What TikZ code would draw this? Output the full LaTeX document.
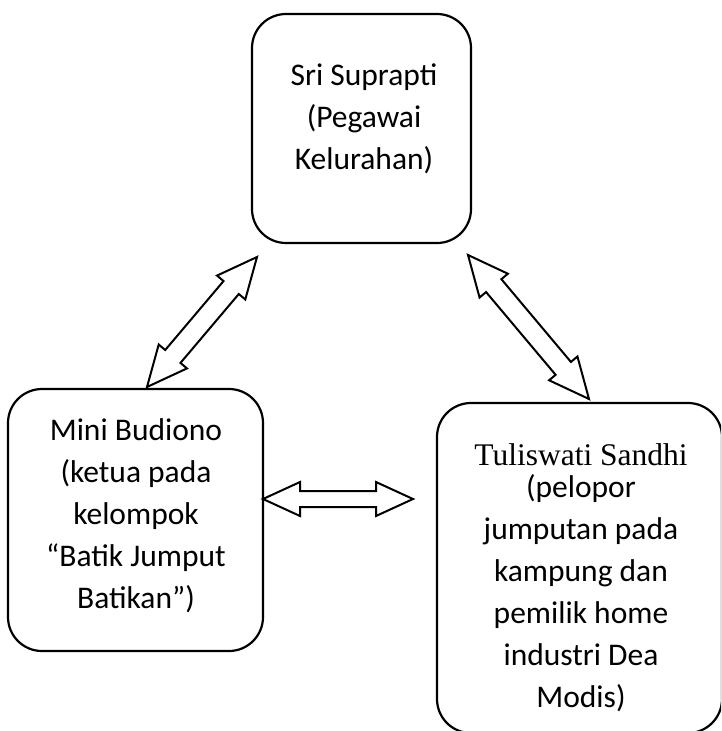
\documentclass[tikz,border=0pt]{standalone}
\usepackage{fontspec}
\setmainfont{Carlito}
\newfontfamily\timesfont{Liberation Serif}
\usetikzlibrary{calc}
\tikzset{
  box/.style={draw=black, line width=2.2pt, rounded corners=34pt, inner sep=0pt, outer sep=0pt, fill=white},
  txt/.style={align=center, inner sep=0pt, font=\fontsize{31.5pt}{42pt}\selectfont},
  arr/.style={draw=black, fill=white, line width=2pt, line join=miter, miter limit=10},
}
\newcommand\dblarrow[5]{%
  \draw[arr] (#1) -- ($(#1)!#3!(#2)!#4!90:(#2)$) -- ($(#1)!#3!(#2)!#5!90:(#2)$)
    -- ($(#2)!#3!(#1)!#5!-90:(#1)$) -- ($(#2)!#3!(#1)!#4!-90:(#1)$) -- (#2)
    -- ($(#2)!#3!(#1)!#4!90:(#1)$) -- ($(#2)!#3!(#1)!#5!90:(#1)$)
    -- ($(#1)!#3!(#2)!#5!-90:(#2)$) -- ($(#1)!#3!(#2)!#4!-90:(#2)$) -- cycle;}
\begin{document}
\begin{tikzpicture}[x=1pt, y=-1pt]
\useasboundingbox (0,0) rectangle (721,731);
\fill[white] (0,0) rectangle (721,731);
% boxes
\node[box, minimum width=219pt, minimum height=229pt] (sri) at (361.5,128.5) {};
\node[box, minimum width=255pt, minimum height=262pt] (mini) at (135.5,520) {};
\begin{scope}
  \clip (0,0) rectangle (721,731);
  \node[box, minimum width=285pt, minimum height=330pt] (tuli) at (579.5,568) {};
\end{scope}
% texts (base anchor = baseline of the last line)
\node[txt, anchor=base] (sritxt) at (364,169) {Sri Suprapti\\(Pegawai\\Kelurahan)};
\node[txt, anchor=base] (minitxt) at (136,608) {Mini Budiono\\(ketua pada\\kelompok\\“Batik Jumput\\Batikan”)};
\node[txt, anchor=base] (tulitxt) at (581,707) {{\timesfont Tuliswati Sandhi}\\[-10pt](pelopor\\jumputan pada\\kampung dan\\pemilik home\\industri Dea\\Modis)};
% arrow end points
\coordinate (a1) at (147,387);
\coordinate (b1) at (257,257);
\coordinate (a2) at (468,255);
\coordinate (b2) at (589,399);
\coordinate (a3) at (263,499);
\coordinate (b3) at (413,499);
\dblarrow{a1}{b1}{40pt}{18.5pt}{10pt}
\dblarrow{a2}{b2}{40pt}{18.5pt}{10pt}
\dblarrow{a3}{b3}{37pt}{17pt}{8pt}
\end{tikzpicture}
\end{document}
